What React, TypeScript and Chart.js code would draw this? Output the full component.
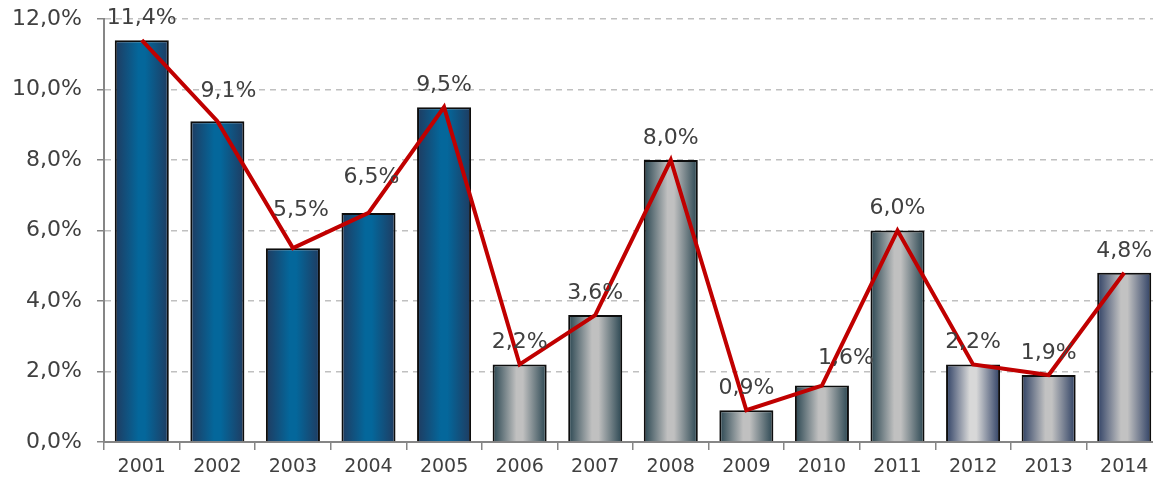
import React, { useEffect, useRef } from "react";
import { Chart, registerables } from "chart.js";

Chart.register(...registerables);

// ---- data ----
const years = ["2001", "2002", "2003", "2004", "2005", "2006", "2007", "2008", "2009", "2010", "2011", "2012", "2013", "2014"];
const growthBars = [11.4, 9.1, 5.5, 6.5, 9.5, 2.2, 3.6, 8.0, 0.9, 1.6, 6.0, 2.2, 1.9, 4.8];
const growthLine = [11.4, 9.1, 5.5, 6.5, 9.5, 2.2, 3.6, 8.0, 0.9, 1.6, 6.0, 2.2, 1.9, 4.8];
const yTicks = [0, 2, 4, 6, 8, 10, 12];

// ---- styles ----
const barEdge = ["#1f3b60", "#1f3b60", "#1f3b60", "#1f3b60", "#1f3b60", "#294550", "#294550", "#294550", "#294550", "#294550", "#294550", "#2f4064", "#2d3f62", "#2f4064"];
const barMid = ["#04679b", "#04679b", "#04679b", "#04679b", "#04679b", "#c0c0c0", "#c0c0c0", "#c0c0c0", "#c0c0c0", "#c0c0c0", "#c0c0c0", "#d8d8d8", "#c2c2c2", "#c2c2c2"];
// label nudges [dx, dy] relative to default position above the bar
const labelNudge: [number, number][] = [[0, 0], [11, -8], [8, -16], [3, -14], [0, 0], [0, 0], [0, 0], [0, 0], [0, 0], [24, -5], [0, 0], [0, 0], [0, 0], [0, 0]];
const BAR_PCT = 0.715;
const TEXT = "#404040";
const AXIS = "#868686";
const FONT = "'DejaVu Sans', Verdana, sans-serif";

const fmt = (v: number) => v.toFixed(1).replace(".", ",") + "%";

const labelPlugin = {
  id: "barLabels",
  afterDatasetsDraw(chart: any) {
    const meta = chart.getDatasetMeta(0);
    const ctx = chart.ctx;
    ctx.save();
    ctx.font = `22px ${FONT}`;
    ctx.fillStyle = TEXT;
    ctx.textAlign = "center";
    ctx.textBaseline = "middle";
    meta.data.forEach((el: any, i: number) => {
      const [dx, dy] = labelNudge[i] || [0, 0];
      ctx.fillText(fmt(growthBars[i]), el.x + dx, el.y - 22 + dy);
    });
    ctx.restore();
  },
};

export default function App() {
  const ref = useRef<HTMLCanvasElement>(null);
  useEffect(() => {
    if (!ref.current) return;
    const chart = new Chart(ref.current, {
      type: "bar",
      data: {
        labels: years,
        datasets: [
          {
            type: "bar",
            data: growthBars,
            order: 2,
            barPercentage: BAR_PCT,
            categoryPercentage: 1,
            borderColor: "#0d0d0d",
            borderWidth: 2,
            backgroundColor: (c: any) => {
              const i = c.dataIndex;
              const chart = c.chart;
              const xs = chart.scales?.x;
              if (i === undefined || !xs || !chart.chartArea) return barMid[i ?? 0];
              const cx = xs.getPixelForValue(i);
              const w = (xs.width / years.length) * BAR_PCT;
              const g = chart.ctx.createLinearGradient(cx - w / 2, 0, cx + w / 2, 0);
              g.addColorStop(0, barEdge[i]);
              g.addColorStop(0.44, barMid[i]);
              g.addColorStop(0.56, barMid[i]);
              g.addColorStop(1, barEdge[i]);
              return g;
            },
          } as any,
          {
            type: "line",
            data: growthLine,
            order: 1,
            borderColor: "#c00000",
            borderWidth: 4,
            pointRadius: 0,
            tension: 0,
            fill: false,
          } as any,
        ],
      },
      options: {
        responsive: false,
        animation: false,
        devicePixelRatio: 1,
        layout: { padding: { top: 19, right: 1, left: 0, bottom: 0 } },
        plugins: { legend: { display: false }, tooltip: { enabled: false } },
        scales: {
          x: {
            grid: { display: true, drawOnChartArea: false, drawTicks: true, tickLength: 8, color: AXIS, lineWidth: 1.5 },
            border: { display: true, color: AXIS, width: 2 },
            ticks: { color: TEXT, font: { family: FONT, size: 19 }, padding: 6, maxRotation: 0, autoSkip: false },
            afterFit: (s: any) => {
              s.height = 36;
              s.paddingLeft = 0;
              s.paddingRight = 0;
            },
          },
          y: {
            min: 0,
            max: 12,
            afterBuildTicks: (s: any) => {
              s.ticks = yTicks.map((v) => ({ value: v }));
            },
            grid: { color: "#c0c0c0", lineWidth: 1.5, tickLength: 7, tickColor: AXIS, tickBorderDash: [], tickWidth: 1.5 },
            border: { display: true, color: AXIS, width: 2, dash: [6, 5] },
            ticks: { color: TEXT, font: { family: FONT, size: 22 }, padding: 15, callback: (v: any) => fmt(Number(v)) },
            afterFit: (s: any) => {
              s.width = 104;
              s.paddingTop = 0;
              s.paddingBottom = 0;
            },
          },
        },
      } as any,
      plugins: [labelPlugin],
    });
    return () => chart.destroy();
  }, []);
  return (
    <div style={{ position: "fixed", left: 0, top: 0, width: 1153, height: 478, overflow: "hidden", background: "#fff" }}>
      <canvas ref={ref} width={1163} height={478} style={{ display: "block", width: 1163, height: 478 }} />
    </div>
  );
}
